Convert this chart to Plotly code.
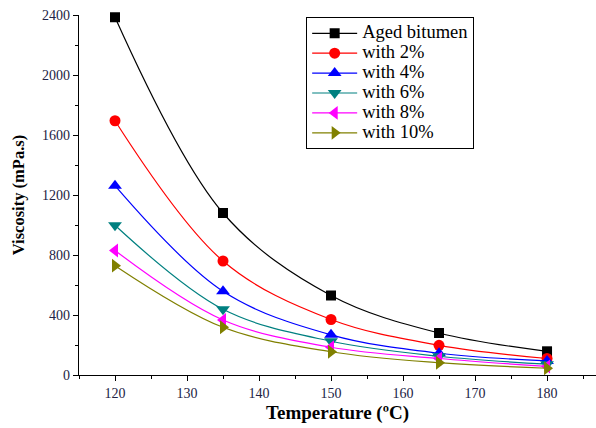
import plotly.graph_objects as go

temperature = [120, 135, 150, 165, 180]
aged = [2385, 1080, 530, 280, 158]
with2 = [1695, 760, 370, 198, 110]
with4 = [1262, 558, 268, 145, 94]
with6 = [998, 438, 225, 125, 72]
with8 = [830, 367, 185, 110, 57]
with10 = [729, 318, 155, 82, 45]

series_names = ["Aged bitumen", "with 2%", "with 4%", "with 6%", "with 8%", "with 10%"]
series_values = [aged, with2, with4, with6, with8, with10]
colors = ["#000000", "#FF0000", "#0000FF", "#008080", "#FF00FF", "#808000"]
symbols = ["square", "circle", "triangle-up", "triangle-down", "triangle-left", "triangle-right"]
sizes = [10, 11, 12, 12, 12, 12]

fig = go.Figure()
for name, vals, c, s, sz in zip(series_names, series_values, colors, symbols, sizes):
    fig.add_trace(go.Scatter(
        x=temperature, y=vals, name=f"<span style='font-size:18.5px'>{name}</span>",
        mode="lines+markers",
        line=dict(color=c, width=1.2, shape="spline", smoothing=1.0),
        marker=dict(color=c, symbol=s, size=sz, line=dict(width=0)),
        cliponaxis=False,
    ))

font_family = "Times New Roman, Liberation Serif, serif"
fig.update_layout(
    width=596, height=428,
    margin=dict(l=79, r=0, t=15, b=53, autoexpand=False),
    paper_bgcolor="white", plot_bgcolor="white",
    font=dict(family=font_family, color="#222222", size=13),
    showlegend=True,
    legend=dict(
        x=0.439, y=0.994, xanchor="left", yanchor="top",
        bordercolor="#000000", borderwidth=1.2, bgcolor="white",
        font=dict(family=font_family, size=13, color="#000000"),
        tracegroupgap=0, itemwidth=45,
    ),
    xaxis=dict(
        range=[115, 186.8], showgrid=False, zeroline=False, automargin=False,
        showline=True, linecolor="#000000", linewidth=1.2,
        ticks="outside", ticklen=5, tickwidth=1, tickcolor="#000000",
        tick0=120, dtick=10,
        minor=dict(dtick=5, tick0=115, ticks="outside", ticklen=3, tickcolor="#000000"),
        tickfont=dict(size=14, family=font_family, color="#222244"),
        title=dict(text="<b>Temperature (ºC)</b>", font=dict(size=19, family=font_family, color="#000000"), standoff=5),
    ),
    yaxis=dict(
        range=[0, 2400], showgrid=False, zeroline=False, automargin=False,
        showline=True, linecolor="#000000", linewidth=1.2,
        ticks="outside", ticklen=5, tickwidth=1, tickcolor="#000000",
        tick0=0, dtick=400,
        minor=dict(dtick=200, ticks="outside", ticklen=3, tickcolor="#000000"),
        tickfont=dict(size=14, family=font_family, color="#222244"),
        title=dict(text="<b>Viscosity (mPa.s)</b>", font=dict(size=16.5, family=font_family, color="#000000"), standoff=13),
    ),
)

fig.write_html("out.html", config={"displayModeBar": False},
               post_script="document.body.style.margin='0';document.body.style.padding='0';")
